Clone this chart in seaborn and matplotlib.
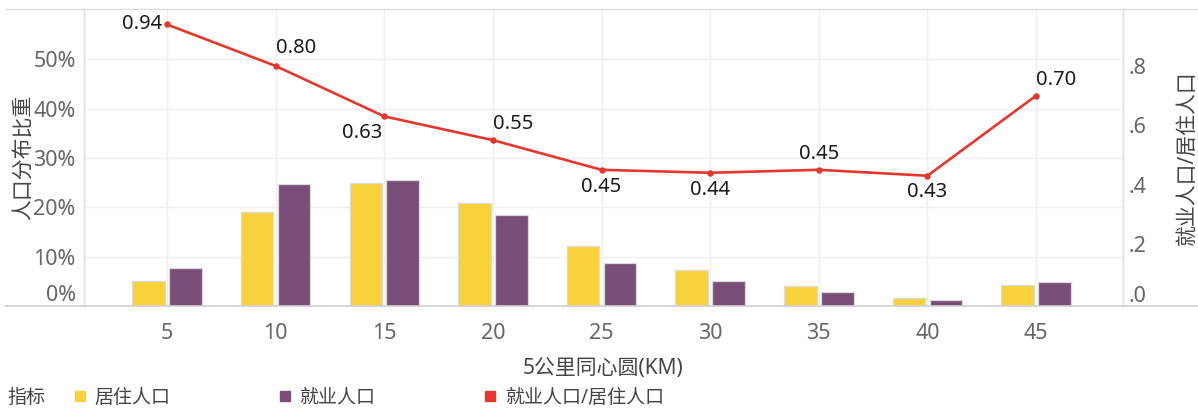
import matplotlib
matplotlib.use("Agg")
import matplotlib.pyplot as plt
from matplotlib.lines import Line2D
from matplotlib.transforms import ScaledTranslation
import numpy as np
import pandas as pd
import seaborn as sns

# ---- data ----
distances = ["5", "10", "15", "20", "25", "30", "35", "40", "45"]
resident_share = [0.051, 0.191, 0.250, 0.208, 0.122, 0.072, 0.041, 0.017, 0.043]
employment_share = [0.078, 0.247, 0.256, 0.184, 0.087, 0.051, 0.028, 0.012, 0.048]
job_housing_ratio = [0.94, 0.80, 0.63, 0.55, 0.45, 0.44, 0.45, 0.43, 0.70]
series_names = ["居住人口", "就业人口", "就业人口/居住人口"]
left_ticks = [0.0, 0.1, 0.2, 0.3, 0.4, 0.5]
left_tick_labels = ["0%", "10%", "20%", "30%", "40%", "50%"]
right_ticks = [0.0, 0.2, 0.4, 0.6, 0.8]
right_tick_labels = [".0", ".2", ".4", ".6", ".8"]

# ---- style ----
YELLOW = "#F8D23C"
PURPLE = "#7B4D79"
RED = "#E2382F"
GRID = "#EFEFEF"
TICK_C = "#666666"
LABEL_C = "#444444"

sns.set_style("white")
plt.rcParams["font.family"] = ["Noto Sans", "Noto Sans CJK SC", "DejaVu Sans"]

df = pd.DataFrame({
    "dist": distances * 2,
    "series": [series_names[0]] * len(distances) + [series_names[1]] * len(distances),
    "value": resident_share + employment_share,
})
ratio_df = pd.DataFrame({"dist": distances, "ratio": job_housing_ratio})

fig = plt.figure(figsize=(11.98, 4.11), dpi=100)
ax = fig.add_axes([84 / 1198, 1 - 306 / 411, (1123 - 84) / 1198, (306 - 9) / 411])

sns.barplot(data=df, x="dist", y="value", hue="series", order=distances,
            hue_order=series_names[:2], palette=[YELLOW, PURPLE], saturation=1,
            width=0.68, gap=0.12, edgecolor="#DADADA", linewidth=0.9,
            errorbar=None, legend=False, ax=ax, zorder=3)

ax2 = ax.twinx()
sns.pointplot(data=ratio_df, x="dist", y="ratio", order=distances, color=RED,
              markers="o", markersize=3.2, linewidth=1.9, errorbar=None, ax=ax2)

# value labels on the ratio line (pixel offsets: dx, dy, ha)
label_offsets = [(-5, 0, "right"), (0, 18, "left"), (-2, -17, "right"),
                 (0, 16, "left"), (0, -17, "center"), (0, -17, "center"),
                 (0, 16, "center"), (0, -16, "center"), (0, 16, "left")]
for i, (v, (dx, dy, ha)) in enumerate(zip(job_housing_ratio, label_offsets)):
    ax2.annotate(f"{v:.2f}", (i, v), xytext=(dx, dy), textcoords="offset pixels",
                 ha=ha, va="center", fontsize=14.5, color="#1a1a1a", zorder=6)

# ---- axes ----
xlim = (-0.764, 8.80)
ax.set_xlim(*xlim)
ax2.set_xlim(*xlim)
ax.set_ylim(0, 0.602)
ax2.set_ylim(-0.009, 0.992)

ax.set_yticks(left_ticks)
ax.set_yticklabels(left_tick_labels)
ax2.set_yticks(right_ticks)
ax2.set_yticklabels(right_tick_labels)
ax.set_xticks(range(len(distances)))
ax.set_xticklabels(distances)

ax.tick_params(axis="both", length=0, labelsize=15.5, labelcolor=TICK_C)
ax.tick_params(axis="y", pad=6)
ax.tick_params(axis="x", pad=12)
ax2.tick_params(axis="y", length=0, labelsize=15.5, labelcolor=TICK_C, pad=4)

ax.set_xlabel("5公里同心圆(KM)", fontsize=15, color=LABEL_C, labelpad=10)
ax.set_ylabel("人口分布比重", fontsize=15, color=LABEL_C, labelpad=-1)
ax2.set_ylabel("就业人口/居住人口", fontsize=15, color=LABEL_C, labelpad=22)
ax2.set_xlabel("")

ax.grid(True, axis="both", color=GRID, linewidth=1.0, zorder=0)
ax.set_axisbelow(True)
ax2.grid(False)

for a in (ax, ax2):
    a.spines["top"].set_visible(False)
    a.spines["bottom"].set_visible(False)
    a.spines["left"].set_color("#E4E4E4")
    a.spines["right"].set_color("#E4E4E4")
    a.spines["left"].set_linewidth(1.0)
    a.spines["right"].set_linewidth(1.0)

# full-width frame lines across the figure
fig.add_artist(Line2D([5 / 1198, 1], [1 - 306 / 411] * 2, transform=fig.transFigure,
                      color="#CFCFCF", linewidth=1.2))
fig.add_artist(Line2D([5 / 1198, 1], [1 - 9 / 411] * 2, transform=fig.transFigure,
                      color="#DDDDDD", linewidth=1.0))

# lift the zero tick labels off the baseline
zt = ax.yaxis.get_major_ticks()[0]
zt.label1.set_transform(zt.label1.get_transform() +
                        ScaledTranslation(0, 13 / 100, fig.dpi_scale_trans))
zt2 = ax2.yaxis.get_major_ticks()[0]
zt2.label2.set_transform(zt2.label2.get_transform() +
                         ScaledTranslation(0, 9 / 100, fig.dpi_scale_trans))

# ---- legend ----
fig.text(7 / 1198, 1 - 398 / 411, "指标", fontsize=13.7, color=LABEL_C,
         ha="left", va="center")
handles = [Line2D([], [], marker="s", linestyle="none", markersize=6.5, color=c)
           for c in (YELLOW, PURPLE, RED)]
fig.legend(handles, series_names, loc="center left",
           bbox_to_anchor=(74 / 1198, 1 - 398 / 411), ncol=3, frameon=False,
           fontsize=13.7, labelcolor=LABEL_C, handlelength=0.6,
           handletextpad=0.45, columnspacing=5.75, borderpad=0, borderaxespad=0)

fig.savefig("out.png", dpi=100)
